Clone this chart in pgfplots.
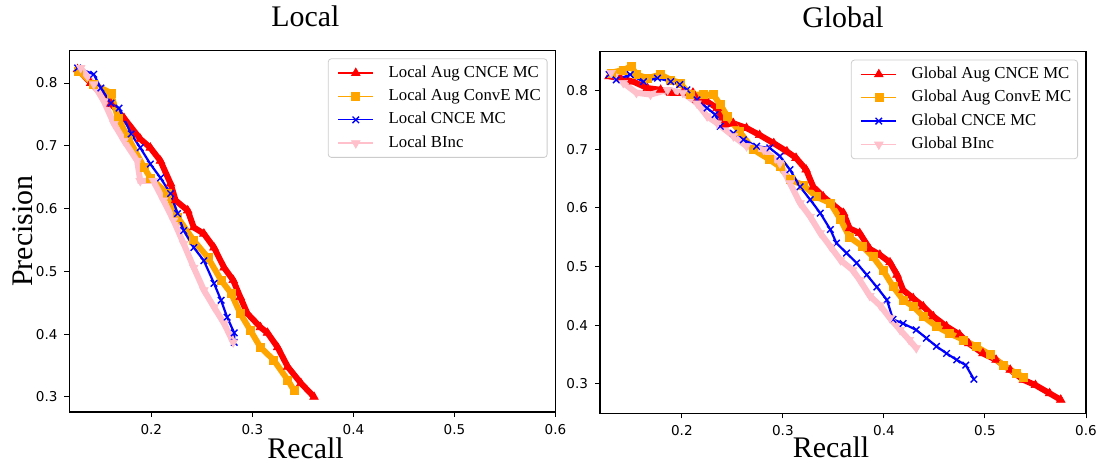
\documentclass[border=0pt]{standalone}
\usepackage{fontspec}
\setmainfont{Liberation Serif}
\newfontfamily\dejavu{DejaVu Sans}
\usepackage{pgfplots}
\pgfplotsset{compat=1.18}
\definecolor{mporange}{RGB}{255,165,0}
\definecolor{mppink}{RGB}{255,192,203}

\pgfplotsset{
  prpanel/.style={
    scale only axis, width=243bp, height=180.8bp,
    xmin=0.119, xmax=0.6,
    xtick={0.2,0.3,0.4,0.5,0.6},
    xticklabels={0.2,0.3,0.4,0.5,0.6},
    ytick={0.3,0.4,0.5,0.6,0.7,0.8},
    yticklabels={0.3,0.4,0.5,0.6,0.7,0.8},
    xtick pos=left, ytick pos=left,
    tick align=outside, major tick length=2.5bp,
    tick style={black, line width=0.5bp},
    axis line style={line width=0.6bp},
    ticklabel style={font=\dejavu\fontsize{6.8}{8}\selectfont},
    legend style={font=\fontsize{8.4}{10}\selectfont, draw=black!20,
      rounded corners=1.5bp, at={(1,1)}, anchor=north east,
      xshift=-4bp, yshift=-4bp, inner xsep=2bp, inner ysep=2bp,
      row sep=1.5bp, nodes={inner sep=1.2bp, text height=6bp, text depth=1.8bp}},
    legend cell align=left,
    legend image code/.code={
      \path (-1.5bp,0bp) (22.5bp,0bp);
      \draw[mark repeat=2,mark phase=2,#1,line width=0.7bp]
        plot coordinates {(0bp,0bp) (8.75bp,0bp) (17.5bp,0bp)};},
    title style={font=\fontsize{15}{18}\selectfont, anchor=base, yshift=6bp},
    xlabel style={font=\fontsize{15}{18}\selectfont, anchor=base},
    xlabel=Recall,
  },
  sred/.style={red, line width=3bp, mark=triangle*, mark size=2.5bp, mark options={solid, line width=0.3bp}},
  sorange/.style={mporange, line width=3bp, mark=square*, mark size=2bp, mark options={solid, line width=0.3bp}},
  sblue/.style={blue, line width=1.1bp, mark=x, mark size=2.3bp, mark options={solid, line width=0.7bp}},
  spink/.style={mppink, line width=3bp, mark=triangle*, mark size=2.5bp, mark options={solid, rotate=180, line width=0.3bp}},
}

\begin{document}
\begin{tikzpicture}
\path[use as bounding box] (0,0) rectangle (548.5bp,231.5bp);

% ---------- Local ----------
\begin{axis}[prpanel,
  at={(34.75bp,25.5bp)}, anchor=south west,
  ymin=0.276, ymax=0.852,
  title={Local}, title style={at={(0.4856,1)}},
  xlabel style={at={(axis description cs:0.4856,0)}, yshift=-23bp},
  ylabel={Precision},
  ylabel style={font=\fontsize{15}{18}\selectfont, at={(axis description cs:-0.0752,0.5)}, anchor=base},
]
\addplot[sred] table {
0.127 0.822
0.140 0.800
0.160 0.767
0.173 0.744
0.189 0.711
0.199 0.697
0.209 0.676
0.219 0.640
0.224 0.613
0.236 0.597
0.242 0.570
0.252 0.560
0.262 0.538
0.272 0.506
0.281 0.486
0.288 0.459
0.295 0.433
0.308 0.411
0.315 0.402
0.325 0.379
0.335 0.348
0.348 0.322
0.361 0.300
};
\addlegendentry{Local Aug CNCE MC}
\addplot[sorange] table {
0.128 0.819
0.143 0.798
0.160 0.784
0.167 0.744
0.177 0.713
0.193 0.665
0.199 0.649
0.216 0.624
0.226 0.586
0.242 0.549
0.256 0.522
0.269 0.486
0.279 0.465
0.288 0.433
0.298 0.406
0.308 0.379
0.321 0.359
0.335 0.327
0.341 0.311
};
\addlegendentry{Local Aug ConvE MC}
\addplot[sblue] table {
0.127 0.824
0.143 0.814
0.150 0.792
0.160 0.768
0.168 0.760
0.180 0.719
0.189 0.697
0.199 0.671
0.209 0.649
0.219 0.624
0.226 0.592
0.232 0.565
0.242 0.538
0.252 0.517
0.262 0.481
0.269 0.454
0.275 0.427
0.282 0.402
0.282 0.387
};
\addlegendentry{Local CNCE MC}
\addplot[spink] table {
0.130 0.824
0.143 0.798
0.153 0.771
0.163 0.735
0.173 0.708
0.186 0.676
0.189 0.644
0.202 0.644
0.212 0.613
0.222 0.581
0.232 0.544
0.242 0.506
0.252 0.470
0.262 0.443
0.272 0.417
0.281 0.387
};
\addlegendentry{Local BInc}
\end{axis}

% ---------- Global ----------
\begin{axis}[prpanel,
  at={(300bp,24.85bp)}, anchor=south west,
  ymin=0.250, ymax=0.866,
  title={Global}, title style={at={(0.5,1)}},
  xlabel style={at={(axis description cs:0.4753,0)}, yshift=-22.3bp},
]
\addplot[sred] table {
0.128 0.824
0.139 0.821
0.152 0.815
0.166 0.804
0.179 0.801
0.189 0.796
0.201 0.796
0.211 0.796
0.215 0.784
0.225 0.781
0.235 0.770
0.242 0.742
0.251 0.744
0.264 0.736
0.277 0.724
0.291 0.710
0.304 0.696
0.313 0.685
0.323 0.665
0.330 0.636
0.340 0.619
0.350 0.605
0.360 0.591
0.366 0.565
0.376 0.557
0.386 0.530
0.396 0.520
0.406 0.507
0.413 0.486
0.419 0.460
0.429 0.446
0.439 0.432
0.449 0.415
0.462 0.398
0.475 0.384
0.484 0.369
0.498 0.352
0.511 0.341
0.525 0.324
0.538 0.307
0.550 0.298
0.564 0.284
0.575 0.273
};
\addlegendentry{Global Aug CNCE MC}
\addplot[sorange] table {
0.130 0.830
0.142 0.835
0.150 0.841
0.155 0.827
0.166 0.821
0.179 0.827
0.189 0.818
0.198 0.813
0.208 0.793
0.221 0.793
0.231 0.793
0.238 0.776
0.245 0.756
0.257 0.730
0.271 0.699
0.287 0.682
0.297 0.670
0.307 0.648
0.320 0.639
0.333 0.619
0.347 0.608
0.357 0.580
0.366 0.550
0.379 0.534
0.389 0.517
0.399 0.494
0.409 0.466
0.419 0.443
0.429 0.432
0.439 0.415
0.452 0.398
0.465 0.386
0.479 0.375
0.491 0.364
0.505 0.350
0.518 0.332
0.531 0.318
0.538 0.312
};
\addlegendentry{Global Aug ConvE MC}
\addplot[sblue] table {
0.128 0.827
0.135 0.818
0.149 0.827
0.162 0.815
0.176 0.821
0.189 0.815
0.198 0.810
0.205 0.801
0.215 0.784
0.225 0.770
0.233 0.759
0.238 0.739
0.251 0.727
0.261 0.716
0.274 0.705
0.287 0.702
0.297 0.688
0.307 0.665
0.317 0.636
0.327 0.614
0.337 0.591
0.347 0.563
0.353 0.540
0.363 0.523
0.373 0.506
0.383 0.486
0.393 0.465
0.403 0.443
0.409 0.410
0.419 0.403
0.432 0.392
0.442 0.378
0.452 0.364
0.462 0.352
0.472 0.341
0.481 0.332
0.489 0.308
};
\addlegendentry{Global CNCE MC}
\addplot[spink] table {
0.130 0.830
0.142 0.813
0.155 0.796
0.169 0.793
0.186 0.801
0.201 0.796
0.215 0.778
0.225 0.756
0.235 0.744
0.251 0.722
0.264 0.705
0.281 0.699
0.297 0.676
0.307 0.642
0.317 0.608
0.327 0.585
0.337 0.557
0.347 0.534
0.357 0.511
0.369 0.494
0.376 0.477
0.386 0.450
0.396 0.434
0.406 0.412
0.416 0.392
0.425 0.375
0.432 0.361
};
\addlegendentry{Global BInc}
\end{axis}
\end{tikzpicture}
\end{document}
